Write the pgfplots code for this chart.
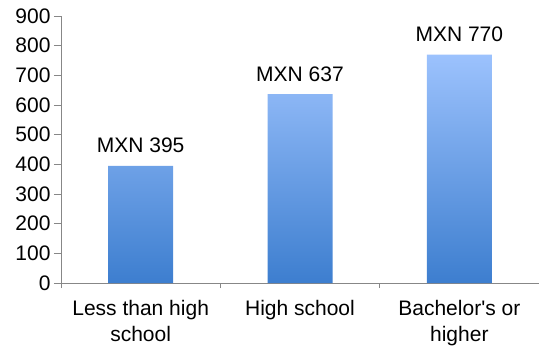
\documentclass[border=0pt]{standalone}
\usepackage{fontspec}
\setmainfont{Liberation Sans}[Ligatures=TeXOff]
\usepackage{pgfplots}
\pgfplotsset{compat=1.18}

\definecolor{axisgray}{HTML}{878787}
\definecolor{bartop}{HTML}{9CC2FD}
\definecolor{barbottom}{HTML}{3D7ECF}

\begin{document}
\begin{tikzpicture}
\useasboundingbox (-61bp,-64bp) rectangle (478bp,283bp);
\begin{axis}[
  at={(0,0)}, anchor=south west,
  scale only axis,
  width=478bp, height=267bp,
  xmin=-0.5, xmax=2.5,
  ymin=0, ymax=900,
  ytick={0,100,...,900},
  xtick={0,1,2},
  xticklabels={Less than high\\school, High school, Bachelor's or\\higher},
  minor xtick={-0.5,0.5,1.5,2.5},
  axis lines=left,
  axis line style={axisgray, line width=1bp, -},
  tick align=outside,
  major x tick style={draw=none},
  minor x tick style={axisgray, line width=1bp},
  major y tick style={axisgray, line width=1bp},
  major tick length=7bp,
  minor tick length=5bp,
  /pgf/number format/assume math mode=true,
  tick label style={font=\fontsize{21bp}{26bp}\selectfont, text=black},
  yticklabel style={xshift=0bp},
  xticklabel style={align=center, yshift=-7bp},
  ybar, bar width=65bp,
  nodes near coords={MXN \pgfmathprintnumber{\pgfplotspointmeta}},
  every node near coord/.append style={font=\fontsize{21bp}{26bp}\selectfont, text=black, anchor=base, yshift=13bp},
  clip=false,
]
\addplot[draw=none, top color=bartop, bottom color=barbottom]
  coordinates {(0,395) (1,637) (2,770)};
\end{axis}
\end{tikzpicture}
\end{document}
